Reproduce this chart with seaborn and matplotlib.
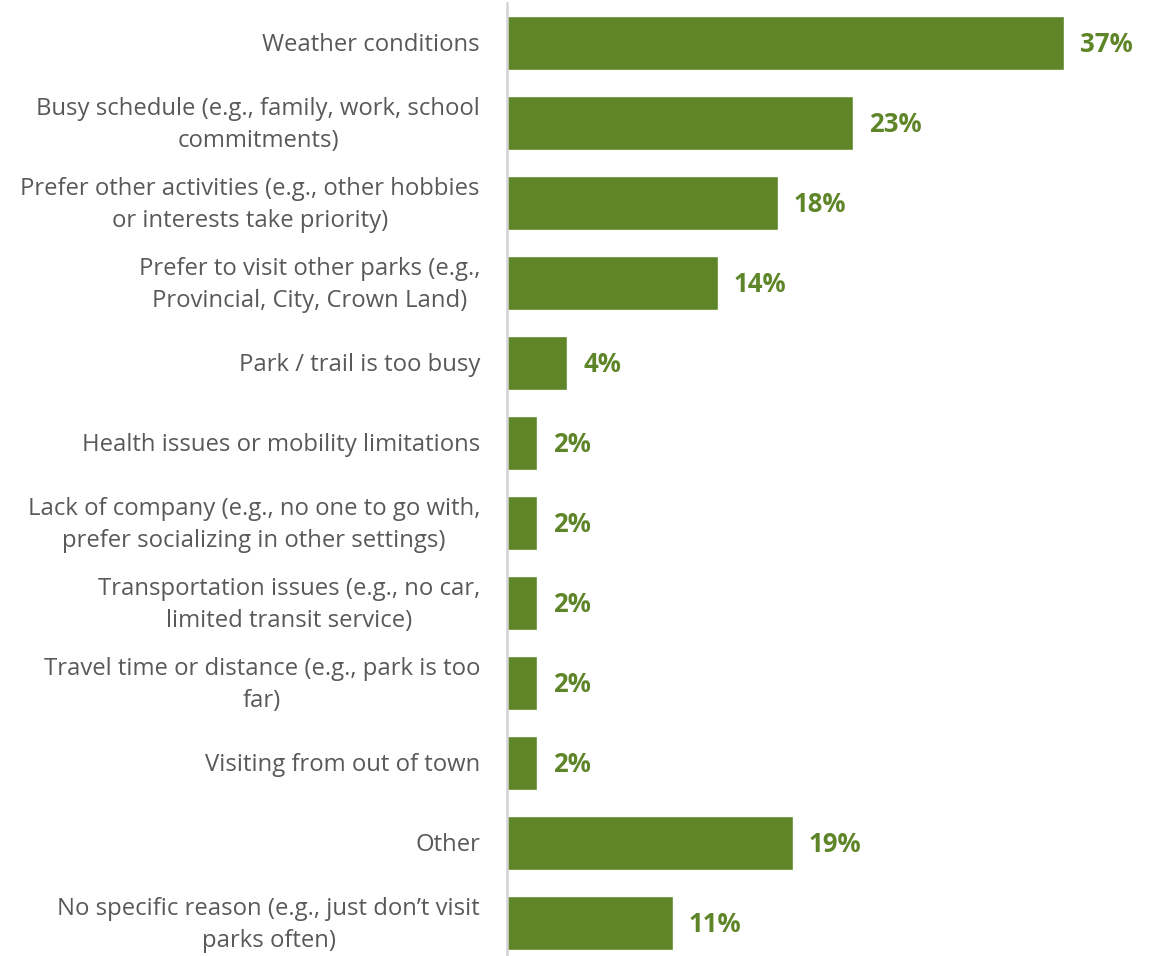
import pandas as pd
import matplotlib.pyplot as plt
import matplotlib.transforms as mtransforms
import seaborn as sns

# Data
reasons = [
    "Weather conditions",
    "Busy schedule (e.g., family, work, school\ncommitments)",
    "Prefer other activities (e.g., other hobbies\nor interests take priority)",
    "Prefer to visit other parks (e.g.,\nProvincial, City, Crown Land)",
    "Park / trail is too busy",
    "Health issues or mobility limitations",
    "Lack of company (e.g., no one to go with,\nprefer socializing in other settings)",
    "Transportation issues (e.g., no car,\nlimited transit service)",
    "Travel time or distance (e.g., park is too\nfar)",
    "Visiting from out of town",
    "Other",
    "No specific reason (e.g., just don\u2019t visit\nparks often)",
]
percent = [37, 23, 18, 14, 4, 2, 2, 2, 2, 2, 19, 11]

data = pd.DataFrame({"reason": reasons, "percent": percent})

bar_color = "#5e8629"
text_color = "#595959"

sns.set_style("white")
plt.rcParams['font.family'] = ['Open Sans', 'DejaVu Sans']

fig = plt.figure(figsize=(11.65, 9.56), dpi=100)
ax = fig.add_axes([507 / 1165, 0, 1 - 507 / 1165, 1 - 3 / 956])

sns.barplot(data=data, x="percent", y="reason", color=bar_color,
            width=0.68, saturation=1, ax=ax)

ax.set_xlim(0, 43.7)
ax.set_ylim(11.41, -0.5)

for i, v in enumerate(percent):
    ax.text(v + 1.05, i + 0.02, f"{v}%", va="center", ha="left",
            fontsize=18.5, fontweight="bold", color=bar_color)

ax.set_xlabel("")
ax.set_ylabel("")
ax.set_xticks([])
ax.tick_params(axis="y", length=0, pad=19.5)
# nudge the category labels down a touch
shift = mtransforms.ScaledTranslation(0, -1.5 / 72, fig.dpi_scale_trans)
for lbl in ax.get_yticklabels():
    lbl.set_fontsize(17.2)
    lbl.set_color(text_color)
    lbl.set_horizontalalignment("right")
    lbl.set_verticalalignment("center")
    lbl.set_multialignment("center")
    lbl.set_linespacing(1.42)
    lbl.set_transform(lbl.get_transform() + shift)

for side in ["top", "right", "bottom"]:
    ax.spines[side].set_visible(False)
ax.spines["left"].set_color("#d3d3d3")
ax.spines["left"].set_linewidth(1.8)

fig.savefig("out.png", dpi=100)
